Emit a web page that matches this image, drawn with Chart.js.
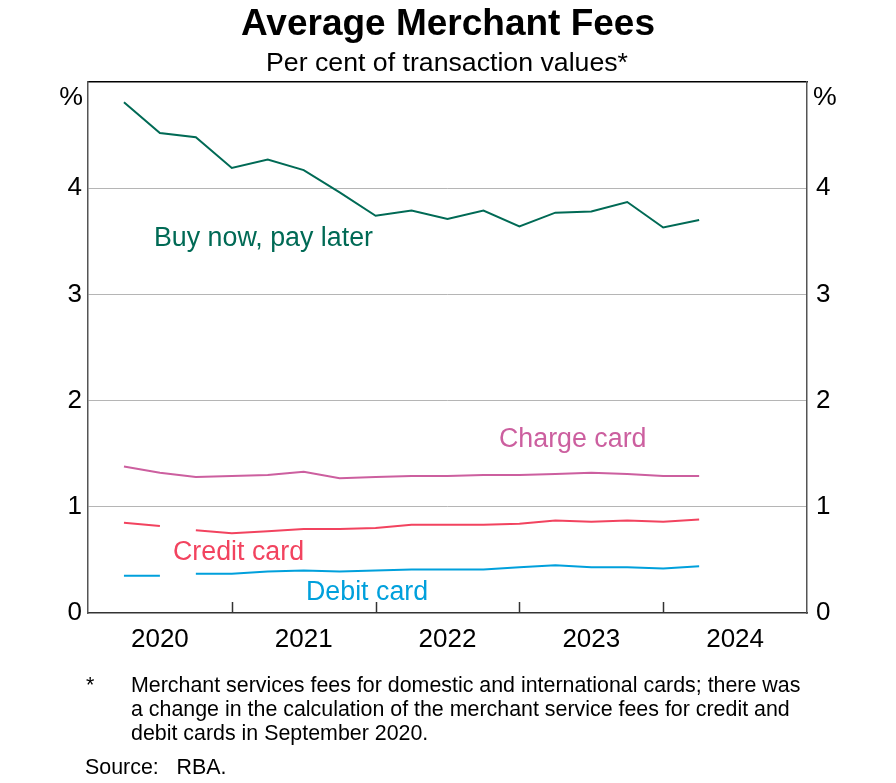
<!DOCTYPE html>
<html>
<head>
<meta charset="utf-8">
<style>
  html, body { margin: 0; padding: 0; background: #fff; }
  canvas { display: block; }
</style>
<script src="https://cdn.jsdelivr.net/npm/chart.js@4.4.0/dist/chart.umd.min.js"></script>
</head>
<body>
<canvas id="chart" width="896" height="783"></canvas>
<script>
// quarter ends, Mar-2020 to Mar-2024
const quarters = ['2020-03','2020-06','2020-09','2020-12','2021-03','2021-06','2021-09','2021-12',
  '2022-03','2022-06','2022-09','2022-12','2023-03','2023-06','2023-09','2023-12','2024-03'];

// per cent of transaction values
const bnpl   = [4.81, 4.52, 4.48, 4.19, 4.27, 4.17, 3.96, 3.74, 3.79, 3.71, 3.79, 3.64, 3.77, 3.78, 3.87, 3.63, 3.70];
const charge = [1.38, 1.32, 1.28, 1.29, 1.30, 1.33, 1.27, 1.28, 1.29, 1.29, 1.30, 1.30, 1.31, 1.32, 1.31, 1.29, 1.29];
// credit & debit: calculation changed Sep 2020, so the series break there
const creditPre  = [0.85, 0.82];
const creditPost = [0.78, 0.75, 0.77, 0.79, 0.79, 0.80, 0.83, 0.83, 0.83, 0.84, 0.87, 0.86, 0.87, 0.86, 0.88];
const debitPre   = [0.35, 0.35];
const debitPost  = [0.37, 0.37, 0.39, 0.40, 0.39, 0.40, 0.41, 0.41, 0.41, 0.43, 0.45, 0.43, 0.43, 0.42, 0.44];

const years = [2020, 2021, 2022, 2023, 2024];
const yTicks = [0, 1, 2, 3, 4, 5];

const colors = { bnpl:'#006a55', charge:'#cc5f9f', credit:'#f2435f', debit:'#00a0dc' };
const FONT = '"Liberation Sans", Arial, sans-serif';

// 'YYYY-MM' -> decimal year (end of month)
function toX(q){
  const [y, m] = q.split('-').map(Number);
  return y + m / 12;
}
function pts(vals, start){
  return vals.map((v, i) => ({ x: toX(quarters[start + i]), y: v }));
}
function line(vals, start, color){
  return { data: pts(vals, start), borderColor: color, borderWidth: 2, pointRadius: 0, tension: 0, fill: false };
}

// text + inward year-boundary ticks
const decorations = {
  id: 'decorations',
  afterDraw(chart){
    const ctx = chart.ctx;
    const xs = chart.scales.x;
    const area = chart.chartArea;
    ctx.save();
    // tick marks at year boundaries, pointing up into the plot
    ctx.strokeStyle = '#333';
    ctx.lineWidth = 1.5;
    years.slice(1).forEach(y => {
      const px = Math.round(xs.getPixelForValue(y)) + 0.5;
      ctx.beginPath();
      ctx.moveTo(px, area.bottom);
      ctx.lineTo(px, area.bottom - 11);
      ctx.stroke();
    });

    ctx.fillStyle = '#000';
    ctx.textBaseline = 'alphabetic';
    ctx.textAlign = 'center';
    ctx.font = 'bold 37px ' + FONT;
    ctx.fillText('Average Merchant Fees', 448, 35);
    ctx.font = '26.7px ' + FONT;
    ctx.fillText('Per cent of transaction values*', 447, 71);

    ctx.textAlign = 'right';
    ctx.fillText('%', 83, 105);
    ctx.textAlign = 'left';
    ctx.fillText('%', 813, 105);

    // series labels
    ctx.font = '26.8px ' + FONT;
    ctx.fillStyle = colors.bnpl;   ctx.fillText('Buy now, pay later', 154, 246);
    ctx.fillStyle = colors.charge; ctx.fillText('Charge card', 499, 447);
    ctx.fillStyle = colors.credit; ctx.fillText('Credit card', 173, 560);
    ctx.fillStyle = colors.debit;  ctx.fillText('Debit card', 306, 600);

    // footnotes
    ctx.fillStyle = '#000';
    ctx.font = '21.4px ' + FONT;
    ctx.fillText('*', 86, 692);
    ctx.fillText('Merchant services fees for domestic and international cards; there was', 131, 692);
    ctx.fillText('a change in the calculation of the merchant service fees for credit and', 131, 716);
    ctx.fillText('debit cards in September 2020.', 131, 740);
    ctx.fillText('Source:   RBA.', 85, 774);
    ctx.restore();
  }
};

const yAxis = (pos, width, grid, pad) => ({
  type: 'linear', position: pos, min: 0, max: 5,
  afterBuildTicks: s => { s.ticks = yTicks.map(v => ({ value: v })); },
  afterFit: s => { s.width = width; },
  ticks: {
    padding: pad, color: '#000', font: { family: FONT, size: 26 },
    callback: v => v === 5 ? '' : String(v)
  },
  grid: grid ? {
    drawTicks: false, lineWidth: 1,
    color: c => (c.tick.value === 0 || c.tick.value === 5) ? 'rgba(0,0,0,0)' : '#b5b5b5'
  } : { display: false, drawTicks: false },
  border: { display: true, color: '#555', width: 1.5 }
});

new Chart(document.getElementById('chart'), {
  type: 'line',
  data: {
    datasets: [
      line(bnpl, 0, colors.bnpl),
      line(charge, 0, colors.charge),
      line(creditPre, 0, colors.credit),
      line(creditPost, 2, colors.credit),
      line(debitPre, 0, colors.debit),
      line(debitPost, 2, colors.debit)
    ]
  },
  options: {
    responsive: false,
    animation: false,
    layout: { padding: { top: 0, left: 0, right: 0, bottom: 0 } },
    plugins: { legend: { display: false }, tooltip: { enabled: false }, title: { display: false } },
    scales: {
      x: {
        type: 'linear', position: 'bottom', min: 2020, max: 2025,
        afterBuildTicks: s => { s.ticks = years.map(y => ({ value: y + 0.5 })); },
        afterFit: s => { s.height = 170; },
        ticks: { padding: 11, color: '#000', font: { family: FONT, size: 26 }, callback: v => String(Math.floor(v)) },
        grid: { display: false, drawTicks: false },
        border: { display: true, color: '#333', width: 1.5 }
      },
      xTop: {
        type: 'linear', position: 'top', min: 2020, max: 2025,
        afterFit: s => { s.height = 82; },
        ticks: { display: false },
        grid: { display: false, drawTicks: false },
        border: { display: true, color: '#000', width: 1.5 }
      },
      y: yAxis('left', 88, true, 6),
      y2: yAxis('right', 89, false, 9)
    }
  },
  plugins: [decorations]
});
</script>
</body>
</html>
